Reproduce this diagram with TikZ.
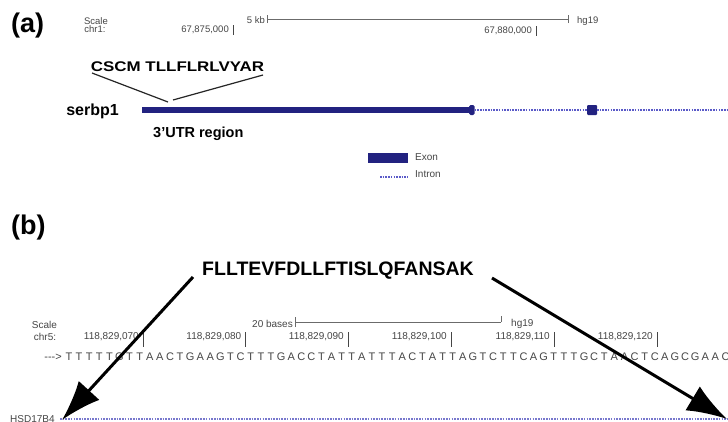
\documentclass[tikz,border=0pt]{standalone}
\usepackage{fontspec}
\setmainfont{Liberation Sans}
\usetikzlibrary{arrows.meta}
\definecolor{exon}{RGB}{34,34,128}
\definecolor{intron}{RGB}{90,90,200}
\definecolor{introntwo}{RGB}{120,120,205}
\definecolor{lbl}{RGB}{70,70,70}
\begin{document}
\begin{tikzpicture}[x=1pt,y=-1pt,
  panel/.style={inner sep=0pt,font=\fontsize{27}{30}\selectfont\bfseries},
  small/.style={inner sep=0pt,text=lbl,font=\fontsize{9.5}{10}\selectfont},
  smallb/.style={inner sep=0pt,text=lbl,font=\fontsize{10}{11}\selectfont},
  pep/.style={inner sep=0pt,font=\bfseries},
  seqletter/.style={inner sep=0pt,text=lbl,font=\fontsize{11}{12}\selectfont},
  tickline/.style={draw=lbl,line width=0.8pt},
  scalebar/.style={draw=lbl!80,line width=1pt},
  exonline/.style={draw=exon,line width=5.5pt},
  intronline/.style={draw=intron,line width=1.3pt,dash pattern=on 1.6pt off 1.1pt},
  intronlinetwo/.style={draw=introntwo,line width=1.2pt,dash pattern=on 1.6pt off 1.1pt},
  callout/.style={draw=black!85,line width=1.2pt},
  bigarrow/.style={draw=black,line width=3pt,-{Latex[length=40pt,width=28pt]}}]
\useasboundingbox (0,0) rectangle (728,421);
\clip (0,0) rectangle (728,421);
\fill[white] (0,0) rectangle (728,421);

% ---------- panel (a)
\node[panel,anchor=base west] (pa) at (11,32.5) {(a)};
\node[small] (scA) at (96,21) {Scale};
\node[small] (chrA) at (95,29.5) {chr1:};
\node[small,anchor=east] (p1) at (229,30) {67,875,000};
\draw[tickline] (233,25) -- (233,35);
\node[small,anchor=east] (kb) at (265,20) {5 kb};
\coordinate (kbL) at (267,19);
\coordinate (kbR) at (568,19);
\draw[scalebar] (kbL) -- (kbR);
\draw[scalebar] ([yshift=-4]kbL) -- ([yshift=4]kbL);
\draw[scalebar] ([yshift=-4]kbR) -- ([yshift=4]kbR);
\node[small,anchor=west] (hgA) at (577,21) {hg19};
\node[small,anchor=east] (p2) at (532,31) {67,880,000};
\draw[tickline] (536,26) -- (536,36);

\node[pep,font=\fontsize{14}{16}\selectfont\bfseries] (pepA) at (177.5,67) {\scalebox{1.21}[1]{CSCM TLLFLRLVYAR}};
\coordinate (cl1) at (92,73);
\coordinate (cl2) at (168,102);
\coordinate (cr1) at (173,100);
\coordinate (cr2) at (263,75);
\draw[callout] (cl1) -- (cl2);
\draw[callout] (cr1) -- (cr2);

\node[pep,font=\fontsize{16}{18}\selectfont\bfseries,anchor=base east] (gene) at (119,115) {serbp1};
\coordinate (e1) at (142,110);
\coordinate (e2) at (470,110);
\draw[exonline] (e1) -- (e2);
\fill[exon,rounded corners=1.5pt] (469,105) rectangle (474.5,115);
\draw[intronline] (474.5,110) -- (587,110);
\fill[exon,rounded corners=1pt] (587,105) rectangle (597,115);
\draw[intronline] (597,110) -- (728,110);
\node[pep,font=\fontsize{14.5}{16}\selectfont\bfseries,anchor=base west] (utr) at (153,137) {3'UTR region};

% legend
\fill[exon] (368,153) rectangle (408,163);
\node[smallb,anchor=west] (lgE) at (415,157.5) {Exon};
\draw[intronline] (380,177) -- (408,177);
\node[smallb,anchor=west] (lgI) at (415,174) {Intron};

% ---------- panel (b)
\node[panel,anchor=base west] (pb) at (11,234.5) {(b)};
\node[pep,font=\fontsize{19.5}{22}\selectfont\bfseries,anchor=base west] (pepB) at (202,275) {FLLTEVFDLLFTISLQFANSAK};

\node[smallb] (scB) at (44.5,325) {Scale};
\node[smallb] (chrB) at (45,337) {chr5:};
\node[smallb,anchor=east] (bases) at (293,324) {20 bases};
\coordinate (bL) at (295,322);
\coordinate (bR) at (501,322);
\draw[scalebar] (bL) -- (bR);
\draw[scalebar] ([yshift=-5]bL) -- ([yshift=5]bL);
\draw[scalebar] (bR) -- ([yshift=6]bR);
\node[smallb,anchor=west] (hgB) at (511,324) {hg19};

\foreach \t/\lab in {143/118{,}829{,}070,245.5/118{,}829{,}080,348/118{,}829{,}090,451/118{,}829{,}100,554/118{,}829{,}110,657/118{,}829{,}120}{
  \node[smallb,anchor=east] at (\t-4,337) {\lab};
  \draw[tickline] (\t,332) -- (\t,347);
}
\node[seqletter,anchor=east] (dir) at (62,357) {-{}-{}->};
\foreach \c [count=\i from 0] in {T,T,T,T,T,G,T,T,A,A,C,T,G,A,A,G,T,C,T,T,T,G,A,C,C,T,A,T,T,A,T,T,T,A,C,T,A,T,T,A,G,T,C,T,T,C,A,G,T,T,T,G,C,T,A,A,C,T,C,A,G,C,G,A,A,C}{
  \node[seqletter] (s\i) at ({69+\i*10.1},357) {\c};
}

\node[smallb,anchor=base west] (gb) at (10,422) {HSD17B4};
\coordinate (h1) at (60,419);
\coordinate (h2) at (728,419);
\draw[intronlinetwo] (h1) -- (h2);

% arrows
\coordinate (a1s) at (193,277);
\coordinate (a1e) at (62,420);
\coordinate (a2s) at (492,278);
\coordinate (a2e) at (727,419);
\draw[bigarrow] (a1s) -- (a1e);
\draw[bigarrow] (a2s) -- (a2e);
\end{tikzpicture}
\end{document}
